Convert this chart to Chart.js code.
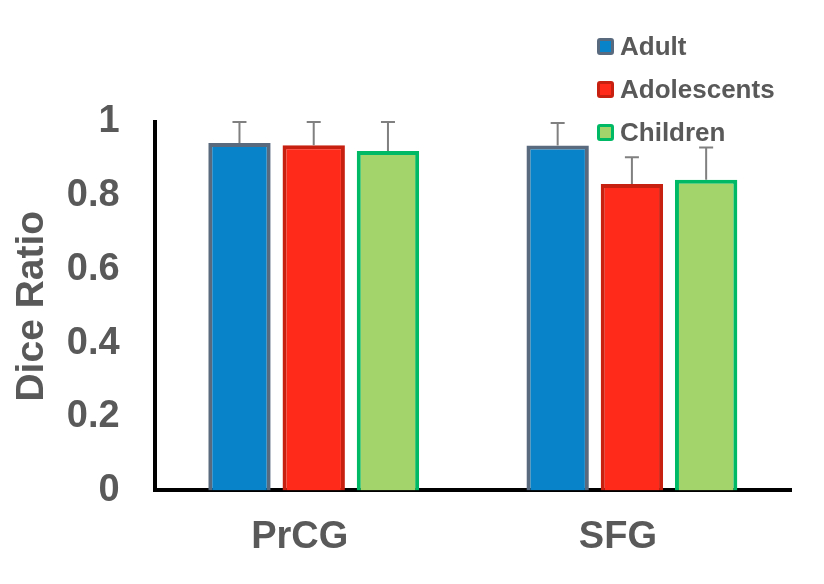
<!DOCTYPE html>
<html>
<head>
<meta charset="utf-8">
<script src="https://cdn.jsdelivr.net/npm/chart.js@4"></script>
<style>
  body { margin: 0; background: #fff; }
  #wrap { position: relative; width: 824px; height: 584px; }
  #legend { position: absolute; left: 597px; top: 25px; font-family: "Liberation Sans", Arial, sans-serif; }
  .item { display: flex; align-items: center; height: 43px; }
  .box { width: 11px; height: 11px; border: 3px solid; border-radius: 3px; margin-right: 6px; }
  .lbl { font-size: 26px; font-weight: bold; color: #595959; }
</style>
</head>
<body>
<div id="wrap">
  <canvas id="chart" width="824" height="584"></canvas>
  <div id="legend"></div>
</div>
<script>
// 데이터
var regions = ['PrCG', 'SFG'];
var groups = ['Adult', 'Adolescents', 'Children'];
var adultMean = [0.943, 0.936];
var adolMean = [0.937, 0.832];
var childMean = [0.921, 0.843];
// 오차 막대 (위쪽)
var adultErr = [0.057, 0.061];
var adolErr = [0.063, 0.072];
var childErr = [0.079, 0.088];

var fills = ['#0882c8', '#ff2a1a', '#a3d46c'];
var borders = ['#5a6a7e', '#c82010', '#00b964'];

var means = [adultMean, adolMean, childMean];
var errs = [adultErr, adolErr, childErr];

// 오차 막대 플러그인
var errorBars = {
  id: 'errorBars',
  afterDatasetsDraw: function(chart) {
    var ctx = chart.ctx;
    var y = chart.scales.y;
    ctx.save();
    ctx.strokeStyle = '#808080';
    ctx.lineWidth = 2;
    chart.data.datasets.forEach(function(ds, i) {
      var meta = chart.getDatasetMeta(i);
      meta.data.forEach(function(bar, j) {
        var top = y.getPixelForValue(ds.data[j] + ds.err[j]);
        ctx.beginPath();
        ctx.moveTo(bar.x, bar.y);
        ctx.lineTo(bar.x, top);
        ctx.moveTo(bar.x - 7, top);
        ctx.lineTo(bar.x + 7, top);
        ctx.stroke();
      });
    });
    ctx.restore();
  }
};

var ctx = document.getElementById('chart').getContext('2d');
var chart = new Chart(ctx, {
  type: 'bar',
  data: {
    labels: regions,
    datasets: groups.map(function(g, i) {
      return {
        label: g,
        data: means[i],
        err: errs[i],
        backgroundColor: fills[i],
        borderColor: borders[i],
        borderWidth: 4
      };
    })
  },
  options: {
    responsive: false,
    animation: false,
    devicePixelRatio: 1,
    categoryPercentage: 0.7,
    barPercentage: 0.84,
    layout: { padding: { top: 122, right: 33, bottom: 0, left: 9 } },
    plugins: { legend: { display: false }, tooltip: { enabled: false } },
    scales: {
      x: {
        grid: { display: false, drawTicks: false },
        border: { display: true, color: '#000', width: 4 },
        ticks: {
          color: '#595959',
          font: { family: 'Liberation Sans', size: 38, weight: 'bold' },
          padding: 24,
          labelOffset: -14
        }
      },
      y: {
        min: 0,
        max: 1,
        grid: { display: false, drawTicks: false },
        border: { display: true, color: '#000', width: 4 },
        ticks: {
          stepSize: 0.2,
          color: '#595959',
          font: { family: 'Liberation Sans', size: 38, weight: 'bold' },
          padding: 35,
          callback: function(v) { return String(Math.round(v * 10) / 10); }
        },
        title: {
          display: true,
          text: 'Dice Ratio',
          color: '#595959',
          font: { family: 'Liberation Sans', size: 39, weight: 'bold' },
          padding: { top: 0, bottom: -24 }
        }
      }
    }
  },
  plugins: [errorBars]
});

// 범례
var legend = document.getElementById('legend');
groups.forEach(function(g, i) {
  legend.innerHTML += '<div class="item"><span class="box" style="background:' + fills[i] +
    ';border-color:' + borders[i] + '"></span><span class="lbl">' + g + '</span></div>';
});
</script>
</body>
</html>
